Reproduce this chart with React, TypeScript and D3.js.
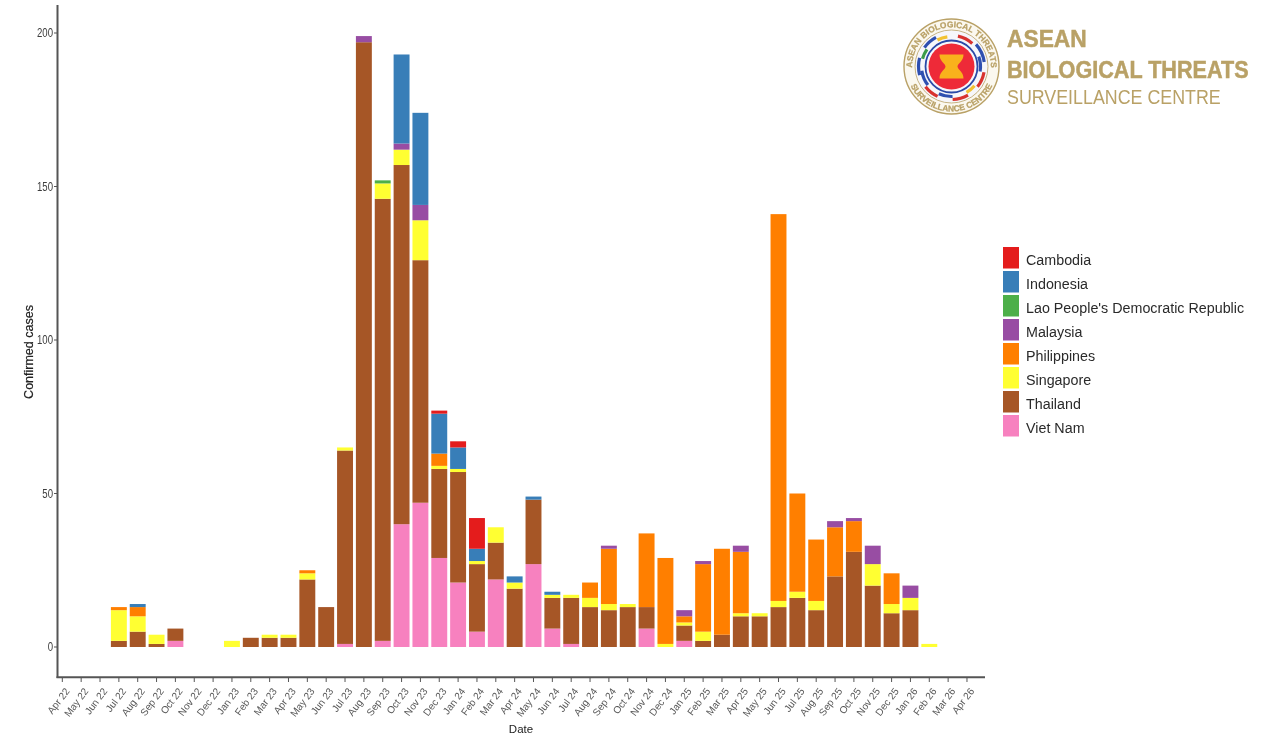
import React from "react";
import * as d3 from "d3";

const months = [
  "Apr 22","May 22","Jun 22","Jul 22","Aug 22","Sep 22","Oct 22","Nov 22","Dec 22",
  "Jan 23","Feb 23","Mar 23","Apr 23","May 23","Jun 23","Jul 23","Aug 23","Sep 23","Oct 23","Nov 23","Dec 23",
  "Jan 24","Feb 24","Mar 24","Apr 24","May 24","Jun 24","Jul 24","Aug 24","Sep 24","Oct 24","Nov 24","Dec 24",
  "Jan 25","Feb 25","Mar 25","Apr 25","May 25","Jun 25","Jul 25","Aug 25","Sep 25","Oct 25","Nov 25","Dec 25",
  "Jan 26","Feb 26","Mar 26","Apr 26",
];
const countries = ["Cambodia","Indonesia","Lao People's Democratic Republic","Malaysia","Philippines","Singapore","Thailand","Viet Nam"];
const colors = ["#e41a1c","#377eb8","#4daf4a","#984ea3","#ff7f00","#ffff33","#a65628","#f781bf"];
const yTicks = [0, 50, 100, 150, 200];

// sparse values: month -> cases
const cambodia: Record<string, number> = { "Dec 23":1,"Jan 24":2,"Feb 24":10 };
const indonesia: Record<string, number> = { "Aug 22":1,"Oct 23":29,"Nov 23":30,"Dec 23":13,"Jan 24":7,"Feb 24":4,"Apr 24":2,"May 24":1,"Jun 24":1 };
const lao: Record<string, number> = { "Sep 23":1 };
const malaysia: Record<string, number> = { "Aug 23":2,"Oct 23":2,"Nov 23":5,"Sep 24":1,"Jan 25":2,"Feb 25":1,"Apr 25":2,"Sep 25":2,"Oct 25":1,"Nov 25":6,"Jan 26":4 };
const philippines: Record<string, number> = { "Jul 22":1,"Aug 22":3,"May 23":1,"Dec 23":4,"Aug 24":5,"Sep 24":18,"Nov 24":24,"Dec 24":28,"Jan 25":2,"Feb 25":22,"Mar 25":28,"Apr 25":20,"Jun 25":126,"Jul 25":32,"Aug 25":20,"Sep 25":16,"Oct 25":10,"Dec 25":10 };
const singapore: Record<string, number> = { "Jul 22":10,"Aug 22":5,"Sep 22":3,"Jan 23":2,"Mar 23":1,"Apr 23":1,"May 23":2,"Jul 23":1,"Sep 23":5,"Oct 23":5,"Nov 23":13,"Dec 23":1,"Jan 24":1,"Feb 24":1,"Mar 24":5,"Apr 24":2,"Jun 24":1,"Jul 24":1,"Aug 24":3,"Sep 24":2,"Oct 24":1,"Dec 24":1,"Jan 25":1,"Feb 25":3,"Apr 25":1,"May 25":1,"Jun 25":2,"Jul 25":2,"Aug 25":3,"Nov 25":7,"Dec 25":3,"Jan 26":4,"Feb 26":1 };
const thailand: Record<string, number> = { "Jul 22":2,"Aug 22":5,"Sep 22":1,"Oct 22":4,"Feb 23":3,"Mar 23":3,"Apr 23":3,"May 23":22,"Jun 23":13,"Jul 23":63,"Aug 23":197,"Sep 23":144,"Oct 23":117,"Nov 23":79,"Dec 23":29,"Jan 24":36,"Feb 24":22,"Mar 24":12,"Apr 24":19,"May 24":21,"Jun 24":10,"Jul 24":15,"Aug 24":13,"Sep 24":12,"Oct 24":13,"Nov 24":7,"Jan 25":5,"Feb 25":2,"Mar 25":4,"Apr 25":10,"May 25":10,"Jun 25":13,"Jul 25":16,"Aug 25":12,"Sep 25":23,"Oct 25":31,"Nov 25":20,"Dec 25":11,"Jan 26":12 };
const vietnam: Record<string, number> = { "Oct 22":2,"Jul 23":1,"Sep 23":2,"Oct 23":40,"Nov 23":47,"Dec 23":29,"Jan 24":21,"Feb 24":5,"Mar 24":22,"May 24":27,"Jun 24":6,"Jul 24":1,"Nov 24":6,"Jan 25":2 };
const seriesValues = [cambodia, indonesia, lao, malaysia, philippines, singapore, thailand, vietnam];

const rows = months.map((m) => {
  const r: Record<string, any> = { month: m };
  countries.forEach((c, i) => { r[c] = seriesValues[i][m] ?? 0; });
  return r;
});
const stacked = d3.stack<any>().keys([...countries].reverse())(rows);

const x = d3.scaleBand<string>().domain(months).range([52.9, 976.4]).paddingInner(0.155).paddingOuter(0.0775);
const y = d3.scaleLinear().domain([0, 200]).range([647, 33]);

const FONT = "'Liberation Sans', Arial, sans-serif";
const GOLD = "#b9a166";
const axisColor = "#555";
const cx = 951.5, cy = 66.5;

// decorative ribbons of the emblem: [start deg, end deg, radius, colour]
const ribbons: [number, number, number, string][] = [
  [12, 42, 31, "#d8322f"], [48, 82, 33, "#2f4fb0"], [70, 100, 29, "#2f4fb0"], [100, 128, 33, "#d8322f"],
  [130, 150, 30, "#f2c230"], [150, 178, 33, "#d8322f"], [178, 205, 30, "#2f4fb0"], [205, 232, 33, "#d8322f"],
  [232, 262, 30, "#2f4fb0"], [255, 285, 33, "#2f4fb0"], [285, 305, 30, "#3a9b4a"], [305, 332, 33, "#2f4fb0"],
  [332, 352, 30, "#f2c230"],
];
const ribbonArc = d3.arc<any>()
  .innerRadius((d) => d[2] - 1.6).outerRadius((d) => d[2] + 1.6)
  .startAngle((d) => (d[0] * Math.PI) / 180).endAngle((d) => (d[1] * Math.PI) / 180);

function Logo() {
  return (
    <g filter="url(#softer)">
      <defs>
        <path id="logoTop" d={`M ${cx - 38.5} ${cy + 8} A 39.3 39.3 0 1 1 ${cx + 38.5} ${cy + 8}`} />
        <path id="logoBottom" d={`M ${cx - 43} ${cy + 14} A 45.3 45.3 0 0 0 ${cx + 43} ${cy + 14}`} />
      </defs>
      <circle cx={cx} cy={cy} r={47.5} fill="#fbf8ef" stroke={GOLD} strokeWidth={1.4} />
      <circle cx={cx} cy={cy} r={36.5} fill="#f6f6fa" stroke={GOLD} strokeWidth={0.8} />
      <text fontFamily={FONT} fontWeight="bold" fontSize={8.4} fill={GOLD} stroke={GOLD} strokeWidth={0.25}>
        <textPath href="#logoTop" startOffset="50%" textAnchor="middle">ASEAN BIOLOGICAL THREATS</textPath>
      </text>
      <text fontFamily={FONT} fontWeight="bold" fontSize={8.4} fill={GOLD} stroke={GOLD} strokeWidth={0.25}>
        <textPath href="#logoBottom" startOffset="50%" textAnchor="middle">SURVEILLANCE CENTRE</textPath>
      </text>
      <g transform={`translate(${cx},${cy})`}>
        {ribbons.map((s, i) => <path key={i} d={ribbonArc(s) as string} fill={s[3]} />)}
      </g>
      <circle cx={cx} cy={cy} r={26} fill="#f6f6fa" stroke="#2b4aa8" strokeWidth={1.8} />
      <circle cx={cx} cy={cy} r={23} fill="#ee2a39" />
      <path
        d={`M ${cx - 12} ${cy - 12} L ${cx + 12} ${cy - 12} C ${cx + 12} ${cy - 5}, ${cx + 6} ${cy - 3}, ${cx + 6} ${cy} C ${cx + 6} ${cy + 3}, ${cx + 12} ${cy + 5}, ${cx + 12} ${cy + 12} L ${cx - 12} ${cy + 12} C ${cx - 12} ${cy + 5}, ${cx - 6} ${cy + 3}, ${cx - 6} ${cy} C ${cx - 6} ${cy - 3}, ${cx - 12} ${cy - 5}, ${cx - 12} ${cy - 12} Z`}
        fill="#f9b21b"
      />
      <g fontFamily={FONT} fill={GOLD}>
        <text transform="translate(1007,47) scale(0.95,1)" fontWeight="bold" fontSize={24} stroke={GOLD} strokeWidth={0.5}>ASEAN</text>
        <text transform="translate(1007,78) scale(0.9,1)" fontWeight="bold" fontSize={24} stroke={GOLD} strokeWidth={0.5}>BIOLOGICAL THREATS</text>
        <text transform="translate(1007,104) scale(0.85,1)" fontSize={21}>SURVEILLANCE CENTRE</text>
      </g>
    </g>
  );
}

export default function App() {
  return (
    <svg width={1270} height={736} style={{ position: "absolute", left: 0, top: 0, display: "block", background: "#fff" }}>
      <defs>
        <filter id="soft" x="-5%" y="-5%" width="110%" height="110%"><feGaussianBlur stdDeviation="0.45" /></filter>
        <filter id="softer" x="-5%" y="-5%" width="110%" height="110%"><feGaussianBlur stdDeviation="0.6" /></filter>
      </defs>
      <g filter="url(#soft)">
        {stacked.map((layer) => {
          const color = colors[countries.indexOf(layer.key)];
          return (
            <g key={layer.key} fill={color}>
              {layer.map((d, i) =>
                d[1] > d[0] ? (
                  <rect key={i} x={x(months[i])} width={x.bandwidth()} y={y(d[1])} height={y(d[0]) - y(d[1])} />
                ) : null
              )}
            </g>
          );
        })}

        <line x1={57.5} x2={57.5} y1={5} y2={678} stroke={axisColor} strokeWidth={2} />
        <line x1={56.5} x2={985} y1={677.2} y2={677.2} stroke={axisColor} strokeWidth={2} />
        {yTicks.map((t) => (
          <g key={t}>
            <line x1={54} x2={57} y1={y(t)} y2={y(t)} stroke={axisColor} strokeWidth={1} />
            <text transform={`translate(53,${y(t) + 4.2}) scale(0.8,1)`} textAnchor="end" fontFamily={FONT} fontSize={12} fill="#3c3c3c">{t}</text>
          </g>
        ))}
        {months.map((m) => {
          const px = (x(m) as number) + x.bandwidth() / 2;
          return (
            <g key={m}>
              <line x1={px} x2={px} y1={678} y2={682} stroke={axisColor} strokeWidth={1} />
              <text
                transform={`translate(${px + 2},${687}) rotate(-53)`}
                textAnchor="end"
                dominantBaseline="hanging"
                fontFamily={FONT}
                fontSize={10}
                fill="#555"
              >{m}</text>
            </g>
          );
        })}
        <text x={521} y={733} textAnchor="middle" fontFamily={FONT} fontSize={11.5} fill="#222">Date</text>
        <text transform="translate(33,352) rotate(-90)" textAnchor="middle" fontFamily={FONT} fontSize={12.5} fill="#222" stroke="#222" strokeWidth={0.2}>Confirmed cases</text>

        {countries.map((c, i) => (
          <g key={c}>
            <rect x={1003} y={247 + i * 24} width={16} height={21.5} fill={colors[i]} />
            <text transform={`translate(1026,${264.5 + i * 24}) scale(0.923,1)`} fontFamily={FONT} fontSize={15.5} fill="#2a2a2a">{c}</text>
          </g>
        ))}
      </g>
      <Logo />
    </svg>
  );
}
